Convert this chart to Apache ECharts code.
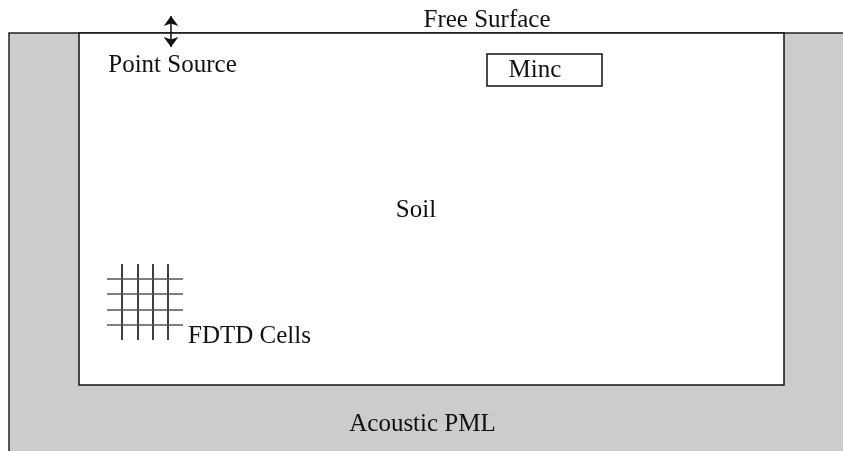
<!DOCTYPE html>
<html>
<head>
<meta charset="utf-8">
<script src="https://cdn.jsdelivr.net/npm/echarts@6/dist/echarts.min.js"></script>
<style>
  html, body { margin: 0; padding: 0; background: #fff; }
  #chart { width: 843px; height: 451px; }
</style>
</head>
<body>
<div id="chart"></div>
<script>
// diagram units: x 0..843, y 0..451 (y down)
const regions = [
  // name, x0, y0, x1, y1, fill
  ['Acoustic PML', 9, 33, 843, 451, '#cccccc'],
  ['Soil', 79, 33, 784, 385, '#ffffff']
]
const receiverBox = [487, 54, 602, 86]
const cellCols = [122, 138, 153, 168]
const cellRows = [279, 294, 310, 325]
const cellSpanX = [107, 183]
const cellSpanY = [264, 340]
const sourceArrow = [171, 16, 47]
const labels = [
  ['Free Surface', 487, 20.5, 'center'],
  ['Point Source', 172.5, 65, 'center'],
  ['Minc', 535, 70.5, 'center'],
  ['Soil', 416, 210, 'center'],
  ['FDTD Cells', 188, 336.5, 'left'],
  ['Acoustic PML', 422.5, 424, 'center']
]

const chart = echarts.init(document.getElementById('chart'))

const fontCss = '25px "Liberation Serif", "DejaVu Serif", serif'

const option = {
  animation: false,
  grid: { left: 0, right: 0, top: 0, bottom: 0 },
  xAxis: { type: 'value', min: 0, max: 843, show: false },
  yAxis: { type: 'value', min: 0, max: 451, inverse: true, show: false },
  series: [
    {
      // regions
      type: 'custom',
      coordinateSystem: 'cartesian2d',
      data: regions.map(r => [r[1], r[2], r[3], r[4]]),
      renderItem(params, api) {
        const r = regions[params.dataIndex]
        const p0 = api.coord([api.value(0), api.value(1)])
        const p1 = api.coord([api.value(2), api.value(3)])
        if (params.dataIndex === 0) {
          // grey PML, only left and top border drawn
          return {
            type: 'group',
            children: [
              { type: 'rect', shape: { x: p0[0], y: p0[1], width: p1[0] - p0[0], height: p1[1] - p0[1] },
                style: { fill: r[5] } },
              { type: 'polyline', shape: { points: [[p0[0], p1[1]], [p0[0], p0[1]], [p1[0], p0[1]]] },
                style: { stroke: '#222', lineWidth: 1.5, fill: null } }
            ]
          }
        }
        return {
          type: 'rect',
          shape: { x: p0[0], y: p0[1], width: p1[0] - p0[0], height: p1[1] - p0[1] },
          style: { fill: r[5], stroke: '#111', lineWidth: 1.5 }
        }
      }
    },
    {
      // receiver box
      type: 'custom',
      coordinateSystem: 'cartesian2d',
      data: [receiverBox],
      renderItem(params, api) {
        const p0 = api.coord([api.value(0), api.value(1)])
        const p1 = api.coord([api.value(2), api.value(3)])
        return {
          type: 'rect',
          shape: { x: p0[0], y: p0[1], width: p1[0] - p0[0], height: p1[1] - p0[1] },
          style: { fill: '#fff', stroke: '#111', lineWidth: 1.5 }
        }
      }
    },
    {
      // FDTD cell grid
      type: 'custom',
      coordinateSystem: 'cartesian2d',
      data: cellCols.map(x => [x, cellSpanY[0], x, cellSpanY[1]])
        .concat(cellRows.map(y => [cellSpanX[0], y, cellSpanX[1], y])),
      renderItem(params, api) {
        const p0 = api.coord([api.value(0), api.value(1)])
        const p1 = api.coord([api.value(2), api.value(3)])
        const vertical = p0[0] === p1[0]
        return {
          type: 'line',
          shape: { x1: p0[0], y1: p0[1], x2: p1[0], y2: p1[1] },
          style: { stroke: vertical ? '#000' : '#555', lineWidth: 1.5 }
        }
      }
    },
    {
      // point source arrow
      type: 'line',
      data: [],
      markLine: {
        silent: true,
        symbol: ['arrow', 'arrow'],
        symbolSize: [11, 10],
        label: { show: false },
        lineStyle: { color: '#111', width: 1.5, type: 'solid' },
        data: [[
          { coord: [sourceArrow[0], sourceArrow[1]] },
          { coord: [sourceArrow[0], sourceArrow[2]] }
        ]]
      }
    },
    {
      // labels
      type: 'custom',
      coordinateSystem: 'cartesian2d',
      data: labels.map(l => [l[1], l[2]]),
      z: 10,
      renderItem(params, api) {
        const l = labels[params.dataIndex]
        const p = api.coord([api.value(0), api.value(1)])
        return {
          type: 'text',
          x: p[0],
          y: p[1],
          style: {
            text: l[0],
            font: fontCss,
            fill: '#111',
            align: l[3],
            verticalAlign: 'middle'
          }
        }
      }
    }
  ]
}

chart.setOption(option)
</script>
</body>
</html>
